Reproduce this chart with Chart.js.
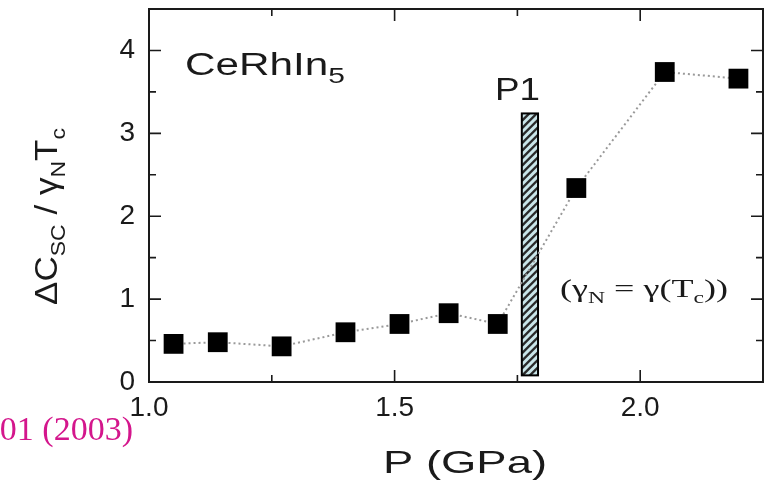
<!DOCTYPE html>
<html>
<head>
<meta charset="utf-8">
<script src="https://cdn.jsdelivr.net/npm/chart.js@4.4.1/dist/chart.umd.min.js"></script>
<style>
  html, body { margin: 0; padding: 0; background: #fff; }
  #wrap { width: 767px; height: 483px; position: relative; }
</style>
</head>
<body>
<div id="wrap"><canvas id="chart"></canvas></div>
<script>
// pressure (GPa) and specific heat jump ratio
const pressure = [1.05, 1.14, 1.27, 1.40, 1.51, 1.61, 1.71, 1.87, 2.05, 2.20];
const jumpRatio = [0.46, 0.48, 0.43, 0.60, 0.70, 0.83, 0.70, 2.34, 3.74, 3.66];

const xTicks = [1.0, 1.5, 2.0];
const xMinor = [1.25, 1.75];
const yTicks = [0, 1, 2, 3, 4];
const yMinor = [0.5, 1.5, 2.5, 3.5];

// P1 critical pressure band (GPa) and its drawn height
const p1Band = [1.759, 1.792];
const p1Height = [0.08, 3.24];

const INK = '#1a1a1a';

function drawRich(ctx, parts, x, y, o) {
  ctx.save();
  ctx.translate(x, y);
  if (o.rotate) ctx.rotate(o.rotate);
  const widths = parts.map(([t, sub]) => {
    ctx.font = (sub ? o.sub : o.size) + 'px ' + o.family;
    return ctx.measureText(t).width;
  });
  const total = widths.reduce((a, b) => a + b, 0);
  const sx = o.width ? o.width / total : 1;
  ctx.scale(sx, 1);
  ctx.fillStyle = o.color || INK;
  ctx.textBaseline = 'alphabetic';
  ctx.textAlign = 'left';
  let cx = o.align === 'right' ? -total : 0;
  parts.forEach(([t, sub], i) => {
    ctx.font = (sub ? o.sub : o.size) + 'px ' + o.family;
    ctx.fillText(t, cx, sub ? o.shift : 0);
    cx += widths[i];
  });
  ctx.restore();
}

const p1BarPlugin = {
  id: 'p1Bar',
  beforeDatasetsDraw(chart) {
    const { ctx, scales: { x, y } } = chart;
    const x0 = x.getPixelForValue(p1Band[0]);
    const x1 = x.getPixelForValue(p1Band[1]);
    const y0 = y.getPixelForValue(p1Height[1]);
    const y1 = y.getPixelForValue(p1Height[0]);
    ctx.save();
    ctx.fillStyle = '#c9e5e9';
    ctx.fillRect(x0, y0, x1 - x0, y1 - y0);
    ctx.beginPath();
    ctx.rect(x0, y0, x1 - x0, y1 - y0);
    ctx.clip();
    ctx.strokeStyle = '#2a2a2a';
    ctx.lineWidth = 2.4;
    const w = x1 - x0;
    for (let yy = y0 - w; yy < y1 + w; yy += 7.5) {
      ctx.beginPath();
      ctx.moveTo(x0, yy + w);
      ctx.lineTo(x1, yy);
      ctx.stroke();
    }
    ctx.restore();
    ctx.save();
    ctx.strokeStyle = '#000';
    ctx.lineWidth = 2;
    ctx.strokeRect(x0, y0, x1 - x0, y1 - y0);
    ctx.restore();
  }
};

const framePlugin = {
  id: 'frame',
  afterDatasetsDraw(chart) {
    const { ctx, chartArea: a, scales: { x, y } } = chart;
    ctx.save();
    ctx.strokeStyle = INK;
    ctx.lineWidth = 2;
    ctx.strokeRect(a.left, a.top, a.right - a.left, a.bottom - a.top);
    ctx.lineWidth = 1.6;
    const tick = (vals, len, axis) => vals.forEach(v => {
      ctx.beginPath();
      if (axis === 'x') {
        const px = x.getPixelForValue(v);
        ctx.moveTo(px, a.bottom); ctx.lineTo(px, a.bottom - len);
        ctx.moveTo(px, a.top); ctx.lineTo(px, a.top + len);
      } else {
        const py = y.getPixelForValue(v);
        ctx.moveTo(a.left, py); ctx.lineTo(a.left + len, py);
        ctx.moveTo(a.right, py); ctx.lineTo(a.right - len, py);
      }
      ctx.stroke();
    });
    tick(xTicks, 12, 'x');
    tick(xMinor, 7, 'x');
    tick(yTicks, 12, 'y');
    tick(yMinor, 7, 'y');
    ctx.restore();
  },
  afterDraw(chart) {
    const ctx = chart.ctx;
    const sans = '"Liberation Sans", Arial, sans-serif';
    const serif = '"Liberation Serif", "Times New Roman", serif';
    drawRich(ctx, [['CeRhIn', false], ['5', true]], 185, 75,
      { size: 31, sub: 22, shift: 8, family: sans, width: 160 });
    drawRich(ctx, [['P1', false]], 495, 100,
      { size: 32, family: sans, width: 45 });
    drawRich(ctx, [['P (GPa)', false]], 383, 473,
      { size: 32, family: sans, width: 164 });
    drawRich(ctx, [['(\u03B3', false], ['N', true], [' = \u03B3(T', false], ['c', true], ['))', false]], 560, 297,
      { size: 26, sub: 17, shift: 6, family: serif, width: 168 });
    drawRich(ctx, [['\u0394C', false], ['SC', true], [' / \u03B3', false], ['N', true], ['T', false], ['c', true]], 57, 305,
      { size: 32, sub: 21, shift: 8, family: sans, width: 177, rotate: -Math.PI / 2 });
    drawRich(ctx, [['01 (2003)', false]], 133, 440,
      { size: 34, family: serif, color: '#d4168c', align: 'right' });
  }
};

new Chart(document.getElementById('chart'), {
  type: 'scatter',
  data: {
    datasets: [{
      data: pressure.map((p, i) => ({ x: p, y: jumpRatio[i] })),
      showLine: true,
      borderColor: '#9a9a9a',
      borderWidth: 2,
      borderDash: [2, 3],
      pointStyle: 'rect',
      pointRadius: 14,
      pointHoverRadius: 14,
      pointBackgroundColor: '#000',
      pointBorderColor: '#000',
      pointBorderWidth: 0
    }]
  },
  options: {
    responsive: true,
    maintainAspectRatio: false,
    animation: false,
    layout: { autoPadding: false, padding: { top: 9, right: 4, left: 0, bottom: 0 } },
    plugins: { legend: { display: false }, tooltip: { enabled: false } },
    scales: {
      x: {
        type: 'linear',
        min: 1.0,
        max: 2.25,
        afterBuildTicks: s => { s.ticks = xTicks.map(v => ({ value: v })); },
        afterFit: s => { s.height = 101; s.paddingLeft = 0; s.paddingRight = 0; },
        ticks: {
          callback: v => Number(v).toFixed(1),
          font: { family: '"Liberation Sans", Arial, sans-serif', size: 28 },
          color: INK,
          padding: 9,
          maxRotation: 0
        },
        grid: { display: false, drawTicks: false },
        border: { display: false }
      },
      y: {
        min: 0,
        max: 4.5,
        afterBuildTicks: s => { s.ticks = yTicks.map(v => ({ value: v })); },
        afterFit: s => { s.width = 149; s.paddingTop = 0; s.paddingBottom = 0; },
        ticks: {
          font: { family: '"Liberation Sans", Arial, sans-serif', size: 28 },
          color: INK,
          padding: 14
        },
        grid: { display: false, drawTicks: false },
        border: { display: false }
      }
    }
  },
  plugins: [p1BarPlugin, framePlugin]
});
</script>
</body>
</html>
